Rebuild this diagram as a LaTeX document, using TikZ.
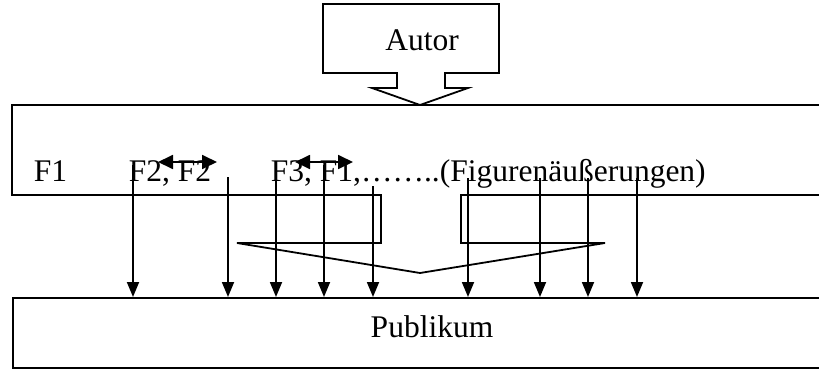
\documentclass[tikz,border=0pt]{standalone}
\usepackage{fontspec}
\setmainfont{Liberation Serif}
\usetikzlibrary{arrows.meta}
\begin{document}
\begin{tikzpicture}[x=1pt,y=-1pt,line width=1.8pt,
  outline/.style={draw=black,line join=miter},
  txt/.style={font=\fontsize{31.5}{36}\selectfont,inner sep=0pt},
  lbl/.style={txt,anchor=base west},
  down/.style={-{Triangle[length=15pt,width=12pt]}},
  both/.style={{Triangle[length=15pt,width=14pt]}-{Triangle[length=15pt,width=14pt]}}]
\useasboundingbox (0,0) rectangle (819,369);

% author: box with a downward arrow
\draw[outline] (323,4) -- (499,4) -- (499,73) -- (445,73) -- (445,88) -- (468,88)
  -- (420,105) -- (372,88) -- (397,88) -- (397,73) -- (323,73) -- cycle;
\node[txt,anchor=base] (autor) at (422,51) {Autor};

% figures' utterances: box with a funnel pointing down
\draw[outline] (12,105) -- (828,105) -- (828,195) -- (461,195) -- (461,243) -- (605,243)
  -- (420,273) -- (237,243) -- (381,243) -- (381,195) -- (12,195) -- cycle;
\node[lbl] (f1) at (33,181) {F1};
\node[lbl] (f2) at (128,181) {F2, F2};
\node[lbl] (f3) at (270,181) {F3, F1,……..(Figurenäußerungen)};

% audience
\node[draw,rectangle,minimum width=816pt,minimum height=70pt,anchor=north west,
  inner sep=0pt] (pub) at (12,297) {};
\node[txt,anchor=base] (publikum) at (432,337) {Publikum};

% exchanges between figures
\coordinate (a1) at (158,162); \coordinate (b1) at (217,162);
\coordinate (a2) at (295,162); \coordinate (b2) at (353,162);
\draw[both] (a1) -- (b1);
\draw[both] (a2) -- (b2);

% utterances reaching the audience
\coordinate (s1) at (133,165);
\coordinate (s2) at (228,177);
\coordinate (s3) at (276,165);
\coordinate (s4) at (324,165);
\coordinate (s5) at (373,186);
\coordinate (s6) at (468,178);
\coordinate (s7) at (540,178);
\coordinate (s8) at (588,178);
\coordinate (s9) at (637,178);
\foreach \s in {s1,s2,s3,s4,s5,s6,s7,s8,s9}
  \draw[down] (\s) -- (\s |- pub.north);
\end{tikzpicture}
\end{document}
